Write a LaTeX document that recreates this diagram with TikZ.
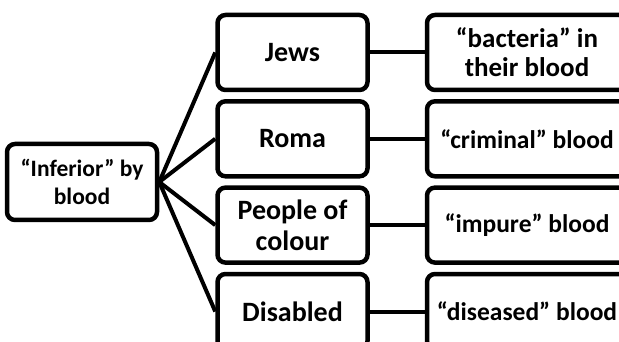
\documentclass[tikz,border=0pt]{standalone}
\usepackage{fontspec}
\setmainfont{Carlito}
\usepackage{tikz}
\usetikzlibrary{positioning}

\tikzset{
  box/.style={draw,line width=4.5pt,rounded corners=8pt,align=center,
    minimum width=150pt,minimum height=75pt,inner sep=0pt},
  wide/.style={box,minimum width=200pt},
  link/.style={line width=4pt}
}

\begin{document}
\begin{tikzpicture}[x=1pt,y=-1pt]
  \useasboundingbox (0,0) rectangle (619,342);
  \clip (0,0) rectangle (619,342);
  \node[box,minimum height=76pt,font=\fontsize{23.5}{28}\selectfont\bfseries] (root) at (82,182){``Inferior'' by\\blood};
  \begin{scope}[every node/.style={font=\fontsize{28}{31}\selectfont\bfseries}]
    \node[box] (jews) at (292.5,52.5){Jews};
    \node[box] (roma) at (292.5,138.8){Roma};
    \node[box] (colour) at (292.5,225.1){People of\\colour};
    \node[box] (disabled) at (292.5,311.5){Disabled};
  \end{scope}
  \node[wide,font=\fontsize{27}{29}\selectfont\bfseries] (bacteria) at (527,52.5){``bacteria'' in\\their blood};
  \begin{scope}[every node/.style={font=\fontsize{25.5}{28}\selectfont\bfseries}]
    \node[wide] (criminal) at (527,138.8){``criminal'' blood};
    \node[wide] (impure) at (527,225.1){``impure'' blood};
    \node[wide] (diseased) at (527,311.5){``diseased'' blood};
  \end{scope}
  % fan out from the root
  \draw[link](root.east)--(jews.west); \draw[link](root.east)--(roma.west);
  \draw[link](root.east)--(colour.west); \draw[link](root.east)--(disabled.west);
  % group to blood claim
  \draw[link](jews)--(bacteria); \draw[link](roma)--(criminal);
  \draw[link](colour)--(impure); \draw[link](disabled)--(diseased);
\end{tikzpicture}
\end{document}
